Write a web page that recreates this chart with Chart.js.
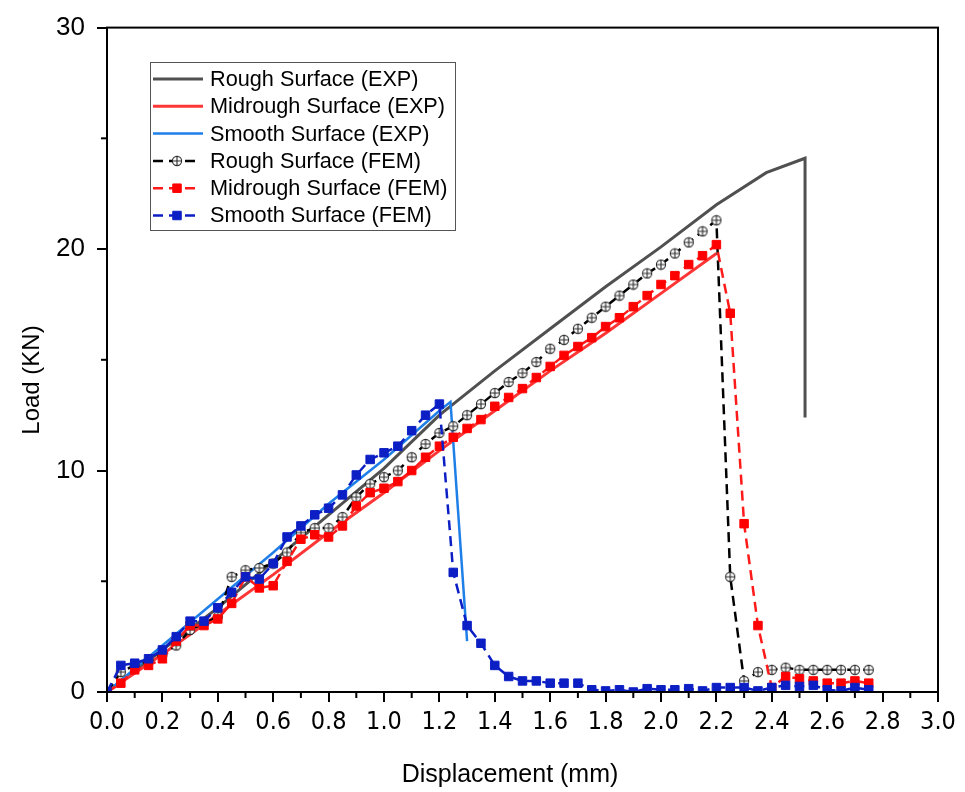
<!DOCTYPE html>
<html>
<head>
<meta charset="utf-8">
<style>
    body { margin: 0; padding: 0; background: #fff; }
    #wrap { width: 965px; height: 792px; }
</style>
</head>
<body>
<div id="wrap"><canvas id="loadChart" width="965" height="792"></canvas></div>
<script src="https://cdn.jsdelivr.net/npm/chart.js"></script>
<script>
    var roughExpX = [0, 0.2, 0.4, 0.6, 0.8, 1.0, 1.2, 1.4, 1.6, 1.8, 2.0, 2.2, 2.38, 2.52, 2.52];
    var roughExpY = [0, 1.9, 3.8, 5.9, 8.0, 10.1, 12.5, 14.5, 16.4, 18.3, 20.1, 22.0, 23.45, 24.1, 12.4];
    var midExpX = [0, 0.2, 0.4, 0.6, 0.8, 1.0, 1.2, 1.4, 1.6, 1.8, 2.0, 2.2];
    var midExpY = [0, 1.7, 3.5, 5.3, 7.2, 9.0, 10.9, 12.7, 14.5, 16.2, 18.0, 19.8];
    var smoothExpX = [0, 0.2, 0.4, 0.6, 0.8, 1.0, 1.2, 1.24, 1.3];
    var smoothExpY = [0, 2.1, 4.2, 6.3, 8.5, 10.5, 12.7, 13.1, 2.3];

    // FEM curves, all sampled at the same displacements
    var femX = [0, 0.05, 0.1, 0.15, 0.2, 0.25, 0.3, 0.35, 0.4, 0.45, 0.5, 0.55, 0.6, 0.65, 0.7, 0.75, 0.8, 0.85, 0.9, 0.95,
        1.0, 1.05, 1.1, 1.15, 1.2, 1.25, 1.3, 1.35, 1.4, 1.45, 1.5, 1.55, 1.6, 1.65, 1.7, 1.75, 1.8, 1.85, 1.9, 1.95,
        2.0, 2.05, 2.1, 2.15, 2.2, 2.25, 2.3, 2.35, 2.4, 2.45, 2.5, 2.55, 2.6, 2.65, 2.7, 2.75];
    var roughFemY = [0, 0.9, 1.2, 1.4, 1.7, 2.1, 2.8, 3.1, 3.4, 5.2, 5.5, 5.6, 5.8, 6.3, 7.2, 7.4, 7.4, 7.9, 8.8, 9.4,
        9.7, 10.0, 10.6, 11.2, 11.7, 12.0, 12.5, 13.0, 13.5, 14.0, 14.4, 14.9, 15.5, 15.9, 16.4, 16.9, 17.4, 17.9, 18.4, 18.9,
        19.3, 19.8, 20.3, 20.8, 21.3, 5.2, 0.5, 0.9, 1.0, 1.1, 1.0, 1.0, 1.0, 1.0, 1.0, 1.0];
    var midFemY = [0, 0.4, 1.0, 1.2, 1.5, 2.3, 3.0, 3.0, 3.3, 4.0, 5.2, 4.7, 4.8, 5.9, 6.9, 7.1, 7.0, 7.5, 8.4, 9.0,
        9.2, 9.5, 10.0, 10.6, 11.1, 11.5, 11.9, 12.3, 12.9, 13.3, 13.7, 14.2, 14.7, 15.2, 15.6, 16.0, 16.5, 16.9, 17.4, 17.9,
        18.4, 18.8, 19.3, 19.7, 20.2, 17.1, 7.6, 3.0, 0.2, 0.7, 0.6, 0.5, 0.4, 0.4, 0.5, 0.4];
    var smoothFemY = [0, 1.2, 1.3, 1.5, 1.9, 2.5, 3.2, 3.2, 3.8, 4.5, 5.2, 5.1, 5.8, 7.0, 7.5, 8.0, 8.3, 8.9, 9.8, 10.5,
        10.8, 11.1, 11.8, 12.5, 13.0, 5.4, 3.0, 2.2, 1.2, 0.7, 0.5, 0.5, 0.4, 0.4, 0.4, 0.1, 0.05, 0.1, 0.0, 0.15,
        0.1, 0.1, 0.15, 0.05, 0.2, 0.2, 0.2, 0.05, 0.2, 0.3, 0.25, 0.3, 0.1, 0.05, 0.2, 0.1];

    var xTicks = [0, 0.2, 0.4, 0.6, 0.8, 1.0, 1.2, 1.4, 1.6, 1.8, 2.0, 2.2, 2.4, 2.6, 2.8, 3.0];
    var yTicks = [0, 10, 20, 30];
    var xMinor = [0.1, 0.3, 0.5, 0.7, 0.9, 1.1, 1.3, 1.5, 1.7, 1.9, 2.1, 2.3, 2.5, 2.7, 2.9];
    var yMinor = [5, 15, 25];
    var xTitle = 'Displacement (mm)';
    var yTitle = 'Load (KN)';

    var FONT = "'Liberation Sans', Arial, sans-serif";
    var NARROW = "'Liberation Sans Narrow', 'DejaVu Sans Condensed', 'Liberation Sans', Arial, sans-serif";

    function toPoints(xs, ys) {
        return xs.map(function (x, i) { return { x: x, y: ys[i] }; });
    }

    // circle with a cross, used for the rough FEM markers
    function makeCrossCircle() {
        var c = document.createElement('canvas');
        c.width = 12; c.height = 12;
        var g = c.getContext('2d');
        g.fillStyle = '#ffffff';
        g.strokeStyle = '#2a2a2a';
        g.lineWidth = 1.1;
        g.beginPath(); g.arc(6, 6, 4.6, 0, Math.PI * 2); g.fill(); g.stroke();
        g.beginPath();
        g.moveTo(1.4, 6); g.lineTo(10.6, 6);
        g.moveTo(6, 1.4); g.lineTo(6, 10.6);
        g.stroke();
        return c;
    }
    var crossCircle = makeCrossCircle();

    var datasets = [
        { label: 'Rough Surface (EXP)', data: toPoints(roughExpX, roughExpY), borderColor: '#505050', borderWidth: 3, pointRadius: 0, order: 6 },
        { label: 'Midrough Surface (EXP)', data: toPoints(midExpX, midExpY), borderColor: '#ff3636', borderWidth: 3, pointRadius: 0, order: 5 },
        { label: 'Smooth Surface (EXP)', data: toPoints(smoothExpX, smoothExpY), borderColor: '#1f7fe8', borderWidth: 2.5, pointRadius: 0, order: 4 },
        { label: 'Rough Surface (FEM)', data: toPoints(femX, roughFemY), borderColor: '#000000', borderWidth: 2.5, borderDash: [10, 6],
            pointStyle: crossCircle, pointRadius: 5, order: 3 },
        { label: 'Midrough Surface (FEM)', data: toPoints(femX, midFemY), borderColor: '#ff1a1a', borderWidth: 2.5, borderDash: [10, 6],
            pointStyle: 'rect', pointRadius: 6, pointBackgroundColor: '#ff0000', pointBorderColor: '#ff0000', pointBorderWidth: 1, order: 2 },
        { label: 'Smooth Surface (FEM)', data: toPoints(femX, smoothFemY), borderColor: '#0c1fc4', borderWidth: 2.5, borderDash: [10, 6],
            pointStyle: 'rect', pointRadius: 6, pointBackgroundColor: '#0c1fc4', pointBorderColor: '#0c1fc4', pointBorderWidth: 1, order: 1 }
    ];

    // box, minor ticks, axis titles and the legend inside the plot
    var framePlugin = {
        id: 'frame',
        afterDraw: function (chart) {
            var ctx = chart.ctx, a = chart.chartArea;
            var xs = chart.scales.x, ys = chart.scales.y;
            ctx.save();
            ctx.strokeStyle = '#000';
            ctx.lineWidth = 2;
            ctx.strokeRect(a.left, a.top, a.right - a.left, a.bottom - a.top);
            xMinor.forEach(function (v) {
                var px = xs.getPixelForValue(v);
                ctx.beginPath(); ctx.moveTo(px, a.bottom); ctx.lineTo(px, a.bottom + 6); ctx.stroke();
            });
            yMinor.forEach(function (v) {
                var py = ys.getPixelForValue(v);
                ctx.beginPath(); ctx.moveTo(a.left, py); ctx.lineTo(a.left - 6, py); ctx.stroke();
            });

            // axis titles
            ctx.fillStyle = '#000';
            ctx.textAlign = 'center';
            ctx.textBaseline = 'middle';
            ctx.font = '25px ' + FONT;
            ctx.fillText(xTitle, 510, 775);
            ctx.save();
            ctx.translate(32, 380);
            ctx.rotate(-Math.PI / 2);
            ctx.font = '24px ' + FONT;
            ctx.fillText(yTitle, 0, 0);
            ctx.restore();

            // legend
            ctx.textAlign = 'left';
            ctx.lineWidth = 1;
            ctx.strokeStyle = '#555';
            ctx.strokeRect(150.5, 62.5, 305, 168);
            ctx.font = '21.7px ' + FONT;
            chart.data.datasets.forEach(function (ds, i) {
                var y = 79 + i * 27.3;
                ctx.save();
                ctx.strokeStyle = ds.borderColor;
                ctx.lineWidth = ds.borderWidth;
                if (ds.borderDash) {
                    ctx.setLineDash([10, 6]);
                    ctx.beginPath(); ctx.moveTo(153, y); ctx.lineTo(197, y); ctx.stroke();
                    ctx.setLineDash([]);
                    ctx.fillStyle = ds.pointBackgroundColor || '#fff';
                    ctx.strokeStyle = ds.pointBorderColor || '#000';
                    ctx.lineWidth = 1;
                    Chart.helpers.drawPoint(ctx, {
                        pointStyle: ds.pointStyle, radius: ds.pointRadius, rotation: 0, borderWidth: 1
                    }, 177, y);
                } else {
                    ctx.beginPath(); ctx.moveTo(153, y); ctx.lineTo(203, y); ctx.stroke();
                }
                ctx.restore();
                ctx.fillText(ds.label, 210, y + 1);
            });
            ctx.restore();
        }
    };

    var ctx = document.getElementById('loadChart').getContext('2d');
    var loadChart = new Chart(ctx, {
        type: 'line',
        data: { datasets: datasets },
        options: {
            responsive: false,
            animation: false,
            devicePixelRatio: 1,
            layout: { padding: { top: 27, right: 27, left: 0, bottom: 0 } },
            elements: { line: { tension: 0, fill: false } },
            plugins: { legend: { display: false }, tooltip: { enabled: false } },
            scales: {
                x: {
                    type: 'linear', min: 0, max: 3,
                    afterFit: function (s) { s.height = 100; },
                    afterBuildTicks: function (s) { s.ticks = xTicks.map(function (v) { return { value: v }; }); },
                    grid: { drawOnChartArea: false, drawTicks: true, tickLength: 10, color: '#000', lineWidth: 2 },
                    border: { display: true, color: '#000', width: 2 },
                    ticks: {
                        color: '#000', padding: 5, maxRotation: 0, autoSkip: false,
                        font: { family: NARROW, size: 25 },
                        callback: function (v) { return Number(v).toFixed(1); }
                    },
                    title: { display: false }
                },
                y: {
                    type: 'linear', min: 0, max: 30,
                    afterFit: function (s) { s.width = 107; },
                    afterBuildTicks: function (s) { s.ticks = yTicks.map(function (v) { return { value: v }; }); },
                    grid: { drawOnChartArea: false, drawTicks: true, tickLength: 10, color: '#000', lineWidth: 2 },
                    border: { display: true, color: '#000', width: 2 },
                    ticks: {
                        color: '#000', padding: 12,
                        font: { family: FONT, size: 26 },
                        callback: function (v) { return String(v); }
                    },
                    title: { display: false }
                }
            }
        },
        plugins: [framePlugin]
    });
</script>
</body>
</html>
